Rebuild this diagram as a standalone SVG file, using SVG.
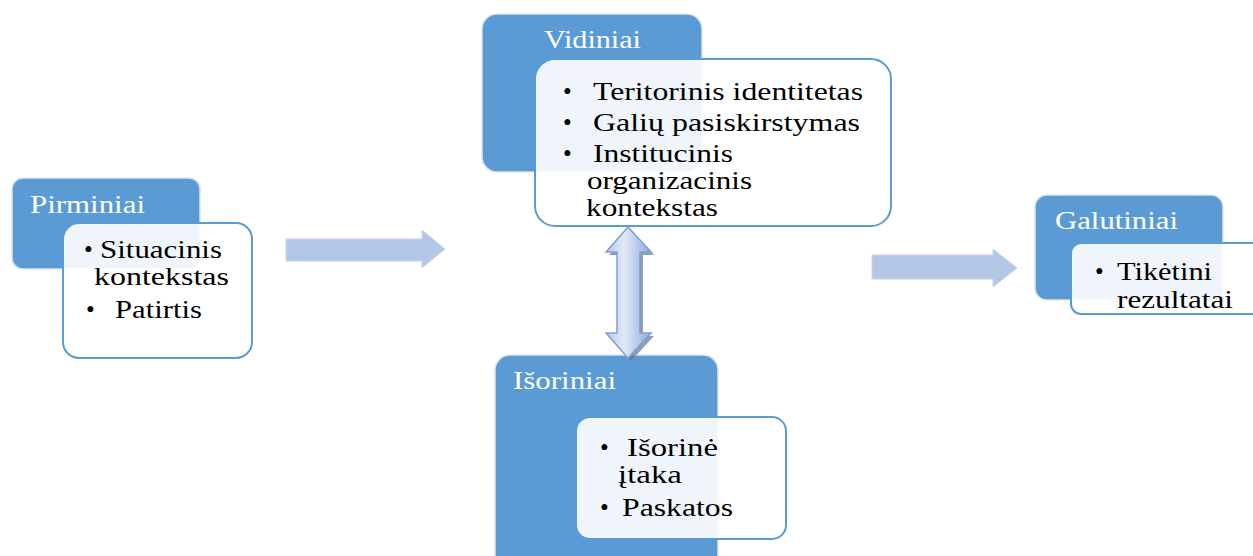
<svg xmlns="http://www.w3.org/2000/svg" width="1253" height="556" viewBox="0 0 1253 556">
<style>
.hdr{fill:#5b9bd5;stroke:#dfe5ec;stroke-width:1.5}
.body{fill:#ffffff;fill-opacity:0.9;stroke:#5b9bd5;stroke-width:2}
.ht{font-family:"Liberation Serif","Times New Roman",serif;font-size:26px;fill:#ffffff}
.bt{font-family:"Liberation Serif","Times New Roman",serif;font-size:25px;fill:#000000}
.arr{fill:#b4c7e7;stroke:#c6d4ec;stroke-width:1}
</style>
<defs>
<linearGradient id="dg" x1="0" y1="0" x2="1" y2="0">
<stop offset="0" stop-color="#b8c9e8"/>
<stop offset="0.4" stop-color="#e2e9f6"/>
<stop offset="1" stop-color="#8eaadb"/>
</linearGradient>
</defs>
<rect width="1253" height="556" fill="#ffffff"/>
<g id="pirminiai">
<rect class="hdr" x="12" y="178" width="188" height="91" rx="11"/>
<text class="ht" x="30" y="213" textLength="115" lengthAdjust="spacingAndGlyphs">Pirminiai</text>
<rect class="body" x="63" y="223" width="189" height="135" rx="16"/>
<text class="bt" x="84" y="258">•</text>
<text class="bt" x="100" y="258" textLength="122" lengthAdjust="spacingAndGlyphs">Situacinis</text>
<text class="bt" x="94" y="285" textLength="135" lengthAdjust="spacingAndGlyphs">kontekstas</text>
<text class="bt" x="86" y="318">•</text>
<text class="bt" x="115" y="318" textLength="87" lengthAdjust="spacingAndGlyphs">Patirtis</text>
</g>
<g id="vidiniai">
<rect class="hdr" x="482" y="14" width="220" height="158" rx="15"/>
<text class="ht" x="544" y="48" textLength="97" lengthAdjust="spacingAndGlyphs">Vidiniai</text>
<rect class="body" x="535" y="59" width="356" height="167" rx="20"/>
<text class="bt" x="563" y="100">•</text>
<text class="bt" x="593" y="100" textLength="270" lengthAdjust="spacingAndGlyphs">Teritorinis  identitetas</text>
<text class="bt" x="563" y="131">•</text>
<text class="bt" x="593" y="131" textLength="267" lengthAdjust="spacingAndGlyphs">Galių pasiskirstymas</text>
<text class="bt" x="563" y="162">•</text>
<text class="bt" x="593" y="162" textLength="140" lengthAdjust="spacingAndGlyphs">Institucinis</text>
<text class="bt" x="587" y="189" textLength="165" lengthAdjust="spacingAndGlyphs">organizacinis</text>
<text class="bt" x="586" y="216" textLength="132" lengthAdjust="spacingAndGlyphs">kontekstas</text>
</g>
<g id="isoriniai">
<rect class="hdr" x="495" y="355" width="223" height="215" rx="15"/>
<text class="ht" x="513" y="389" textLength="103" lengthAdjust="spacingAndGlyphs">Išoriniai</text>
<rect class="body" x="576" y="417" width="210" height="122" rx="14"/>
<text class="bt" x="600" y="456">•</text>
<text class="bt" x="627" y="456" textLength="91" lengthAdjust="spacingAndGlyphs">Išorinė</text>
<text class="bt" x="618" y="483" textLength="64" lengthAdjust="spacingAndGlyphs">įtaka</text>
<text class="bt" x="600" y="516">•</text>
<text class="bt" x="622" y="516" textLength="111" lengthAdjust="spacingAndGlyphs">Paskatos</text>
</g>
<g id="galutiniai">
<rect class="hdr" x="1035" y="195" width="188" height="105" rx="12"/>
<text class="ht" x="1055" y="229" textLength="123" lengthAdjust="spacingAndGlyphs">Galutiniai</text>
<rect class="body" x="1071" y="243" width="200" height="71" rx="10"/>
<text class="bt" x="1095" y="280">•</text>
<text class="bt" x="1117" y="280" textLength="95" lengthAdjust="spacingAndGlyphs">Tikėtini</text>
<text class="bt" x="1117" y="308" textLength="116" lengthAdjust="spacingAndGlyphs">rezultatai</text>
</g>
<g id="connectors">
<path class="arr" d="M286,239 H422 V230 L445,249 L422,268 V261 H286 Z"/>
<path class="arr" d="M872,255 H993 V249 L1017,268 L993,287 V279 H872 Z"/>
<path d="M631,230 L654,255 L643,255 L643,336 L654,336 L631,361 L609,336 L620,336 L620,255 L609,255 Z" fill="#5f7398" fill-opacity="0.7"/>
<path d="M628,227 L651,252 L640,252 L640,333 L651,333 L628,358 L606,333 L617,333 L617,252 L606,252 Z" fill="url(#dg)" stroke="#7d9ed6" stroke-width="1.5"/>
</g>
</svg>
